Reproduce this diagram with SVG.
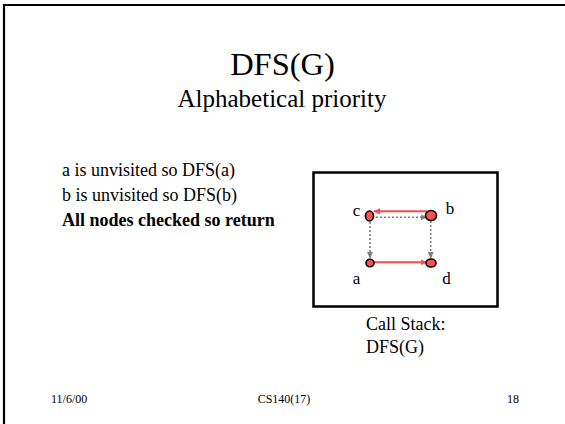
<svg xmlns="http://www.w3.org/2000/svg" width="565" height="424" viewBox="0 0 565 424">
<defs>
<style>
text{font-family:"Liberation Serif","Times New Roman",serif;fill:#000}
.body{font-size:18px}
.lbl{font-size:17px}
.foot{font-size:12px}
.node{fill:#ff5050;stroke:#000;stroke-width:1.6}
.red{stroke:#ff4a4a;stroke-width:2;fill:none}
.dot{stroke:#808080;stroke-width:1.6;stroke-dasharray:2 2;fill:none}
</style>
<marker id="ar" markerUnits="userSpaceOnUse" markerWidth="7" markerHeight="6" refX="6" refY="3" orient="auto"><path d="M0,0 L7,3 L0,6 Z" fill="#ff4a4a"/></marker>
<marker id="ag" markerUnits="userSpaceOnUse" markerWidth="7" markerHeight="6" refX="6" refY="3" orient="auto"><path d="M0,0 L7,3 L0,6 Z" fill="#808080"/></marker>
</defs>
<rect width="565" height="424" fill="#fff"/>
<path d="M4,424 V5 H565" fill="none" stroke="#000" stroke-width="2.2"/>
<g id="title">
<text x="282.5" y="75" font-size="32.5" text-anchor="middle">DFS(G)</text>
<text x="282" y="107" font-size="25" text-anchor="middle">Alphabetical priority</text>
</g>
<g id="steps">
<text class="body" x="62" y="176">a is unvisited so DFS(a)</text>
<text class="body" x="62" y="201">b is unvisited so DFS(b)</text>
<text class="body" x="62" y="226" font-weight="bold">All nodes checked so return</text>
</g>
<rect id="frame" x="313.5" y="172.5" width="184" height="134" fill="none" stroke="#000" stroke-width="2.5"/>
<g id="connectors">
<line class="red" x1="427" y1="211.3" x2="374" y2="211.3" marker-end="url(#ar)"/>
<line class="dot" x1="376" y1="217.3" x2="426.5" y2="217.3" marker-end="url(#ag)"/>
<line class="dot" x1="370" y1="222" x2="370" y2="258" marker-end="url(#ag)"/>
<line class="dot" x1="430.7" y1="221" x2="430.7" y2="258" marker-end="url(#ag)"/>
<line class="red" x1="373" y1="262.3" x2="426.5" y2="262.3" marker-end="url(#ar)"/>
</g>
<g id="node-c"><ellipse class="node" cx="369.5" cy="216" rx="4" ry="5"/><text class="lbl" x="356.5" y="215.5" text-anchor="middle">c</text></g>
<g id="node-b"><ellipse class="node" cx="431" cy="215.5" rx="5.5" ry="5"/><text class="lbl" x="450" y="214" text-anchor="middle">b</text></g>
<g id="node-a"><ellipse class="node" cx="370" cy="263" rx="4" ry="3.7"/><text class="lbl" x="356.5" y="284" text-anchor="middle">a</text></g>
<g id="node-d"><ellipse class="node" cx="431" cy="263" rx="5" ry="4"/><text class="lbl" x="446.5" y="284" text-anchor="middle">d</text></g>
<g id="callstack">
<text class="body" x="366" y="330">Call Stack:</text>
<text class="body" x="366" y="352.5">DFS(G)</text>
</g>
<g id="footer">
<text class="foot" x="51" y="403">11/6/00</text>
<text class="foot" x="284" y="403" text-anchor="middle">CS140(17)</text>
<text class="foot" x="519" y="403" text-anchor="end">18</text>
</g>
</svg>
